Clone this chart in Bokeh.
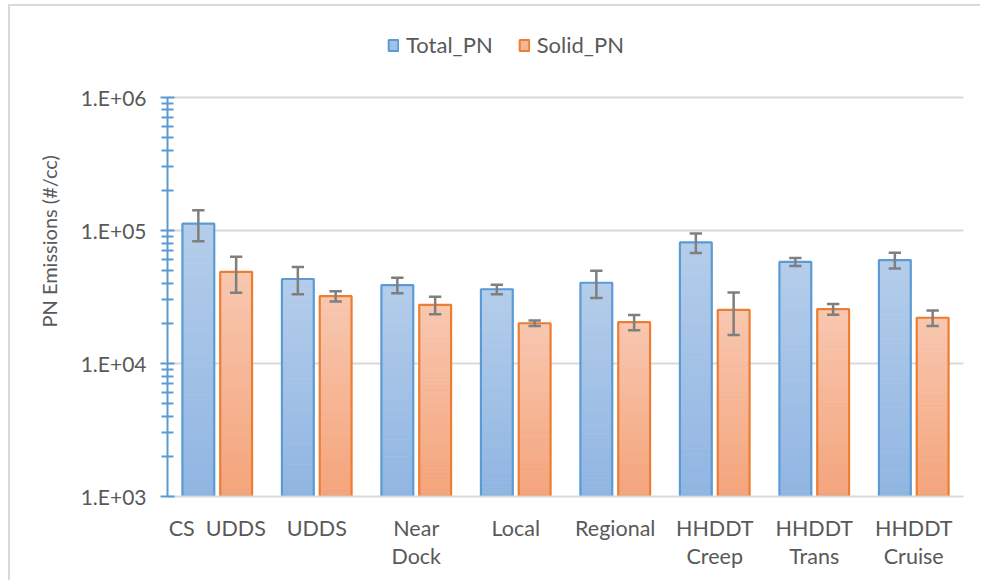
import numpy as np
from bokeh.plotting import figure
from bokeh.models import (Range1d, FixedTicker, Legend, LegendItem, Title,
                          ColumnDataSource)
from bokeh.embed import file_html
from bokeh.resources import INLINE

# Drive cycles (category axis)
cycles = ["CS\u00a0 UDDS", "UDDS", "Near\nDock", "Local", "Regional",
          "HHDDT\nCreep", "HHDDT\nTrans", "HHDDT\nCruise"]

# Particle number emissions (#/cc) and their error half-widths
total_pn = [1.12e5, 4.30e4, 3.87e4, 3.60e4, 4.03e4, 8.10e4, 5.78e4, 5.97e4]
total_pn_err = [2.93e4, 9.9e3, 5.15e3, 2.9e3, 9.3e3, 1.36e4, 4.0e3, 8.1e3]
solid_pn = [4.86e4, 3.20e4, 2.75e4, 2.00e4, 2.04e4, 2.52e4, 2.555e4, 2.20e4]
solid_pn_err = [1.47e4, 2.85e3, 4.1e3, 9.5e2, 2.7e3, 8.9e3, 2.35e3, 2.9e3]

# Log axis decades and their labels
y_decades = [1e3, 1e4, 1e5, 1e6]
y_labels = ["1.E+03", "1.E+04", "1.E+05", "1.E+06"]

FONT = "Lato"
TXT = "#595959"
BLUE_LINE, BLUE_TOP, BLUE_BOT = "#5B9BD5", (180, 205, 234), (144, 181, 226)
ORNG_LINE, ORNG_TOP, ORNG_BOT = "#ED7D31", (248, 199, 176), (244, 164, 123)
BAR_W = 0.32
OFFSETS = (-0.19, 0.19)
HEADROOM = 0.68  # decades of empty space above the top gridline (holds the legend)

p = figure(width=972, height=576, y_axis_type="log",
           x_range=Range1d(0, len(cycles)),
           y_range=Range1d(y_decades[0], y_decades[-1] * 10 ** HEADROOM),
           output_backend="svg", toolbar_location=None,
           min_border_left=157, min_border_right=19,
           min_border_top=0, min_border_bottom=86)
p.outline_line_color = None
p.background_fill_color = "white"
p.border_fill_color = "white"
# light chart-area frame on the top and left edges
p.styles = {"margin-left": "8px", "margin-top": "4px", "overflow": "hidden",
            "border-left": "2px solid #D9D9D9", "border-top": "2px solid #D9D9D9"}

centers = np.arange(len(cycles)) + 0.5


def gradient_bars(values, offset, top_rgb, bot_rgb, line_color, n=48):
    """Vertical gradient bars built from thin strips, then outlined."""
    left, right, bottom, top, colors = [], [], [], [], []
    for c, v in zip(centers, values):
        edges = np.logspace(3, np.log10(v), n + 1)
        for k in range(n):
            t = (k + 0.5) / n
            rgb = tuple(int(round(b + (tp - b) * t)) for b, tp in zip(bot_rgb, top_rgb))
            left.append(c + offset - BAR_W / 2)
            right.append(c + offset + BAR_W / 2)
            bottom.append(edges[k])
            top.append(edges[k + 1])
            colors.append("#%02x%02x%02x" % rgb)
    src = ColumnDataSource(dict(left=left, right=right, bottom=bottom, top=top, color=colors))
    p.quad(left="left", right="right", bottom="bottom", top="top", source=src,
           fill_color="color", line_color="color", line_width=0.8)
    p.vbar(x=list(centers + offset), top=values, bottom=1e3, width=BAR_W,
           fill_color=None, line_color=line_color, line_width=2.2)
    # flat-filled twin, hidden, used only for the legend swatch
    mid = "#%02x%02x%02x" % tuple((a + b) // 2 for a, b in zip(top_rgb, bot_rgb))
    return p.vbar(x=list(centers + offset), top=values, bottom=1e3, width=BAR_W,
                  fill_color=mid, line_color=line_color, line_width=2, visible=False)


def error_bars(values, errs, offset):
    xs = centers + offset
    lo = [v - e for v, e in zip(values, errs)]
    hi = [v + e for v, e in zip(values, errs)]
    kw = dict(line_color="#7F7F7F", line_width=2.5)
    p.segment(x0=list(xs), x1=list(xs), y0=lo, y1=hi, **kw)
    cap = 0.062
    p.segment(x0=list(xs - cap), x1=list(xs + cap), y0=lo, y1=lo, **kw)
    p.segment(x0=list(xs - cap), x1=list(xs + cap), y0=hi, y1=hi, **kw)


sw_t = gradient_bars(total_pn, OFFSETS[0], BLUE_TOP, BLUE_BOT, BLUE_LINE)
sw_s = gradient_bars(solid_pn, OFFSETS[1], ORNG_TOP, ORNG_BOT, ORNG_LINE)
error_bars(total_pn, total_pn_err, OFFSETS[0])
error_bars(solid_pn, solid_pn_err, OFFSETS[1])

# Y axis: log decades with 2..9 minor ticks, line limited to the data decades
minor = [k * d for d in y_decades[:-1] for k in range(2, 10)]
yt = FixedTicker(ticks=y_decades, minor_ticks=minor)
ya = p.yaxis[0]
ya.ticker = yt
ya.bounds = (y_decades[0], y_decades[-1])
ya.major_label_overrides = {d: s for d, s in zip(y_decades, y_labels)}
ya.axis_line_color = BLUE_LINE
ya.axis_line_width = 2
ya.major_tick_line_color = BLUE_LINE
ya.major_tick_line_width = 2
ya.major_tick_in = 7
ya.major_tick_out = 7
ya.minor_tick_line_color = BLUE_LINE
ya.minor_tick_line_width = 2
ya.minor_tick_in = 6
ya.minor_tick_out = 6
ya.major_label_text_font = FONT
ya.major_label_text_font_size = "21px"
ya.major_label_text_color = TXT
ya.major_label_standoff = 14

p.ygrid.ticker = yt
p.ygrid.grid_line_color = "#D9D9D9"
p.ygrid.grid_line_width = 2
p.xgrid.grid_line_color = None

# X axis: category labels
xa = p.xaxis[0]
xa.ticker = FixedTicker(ticks=list(centers))
xa.major_label_overrides = {float(c): name for c, name in zip(centers, cycles)}
xa.axis_line_color = "#D9D9D9"
xa.axis_line_width = 2
xa.major_tick_line_color = None
xa.minor_tick_line_color = None
xa.major_label_text_font = FONT
xa.major_label_text_font_size = "21.5px"
xa.major_label_text_color = TXT
xa.major_label_text_line_height = 1.1
xa.major_label_standoff = 12

# Y axis title
p.add_layout(Title(text="PN Emissions (#/cc)", align="left", offset=169,
                   vertical_align="middle", standoff=32,
                   text_font=FONT, text_font_size="20px", text_font_style="normal",
                   text_color=TXT), "left")

# Legend in the headroom above the top gridline
legend = Legend(items=[LegendItem(label="Total_PN", renderers=[sw_t]),
                       LegendItem(label="Solid_PN", renderers=[sw_s])],
                orientation="horizontal", location=(220, 438),
                glyph_width=12, glyph_height=14, label_standoff=7, spacing=25,
                padding=0, margin=0, border_line_color=None,
                background_fill_alpha=0, inactive_fill_alpha=0,
                label_text_font=FONT, label_text_font_size="22px",
                label_text_color=TXT)
p.add_layout(legend)

open("out.html", "w").write(file_html(p, INLINE))
